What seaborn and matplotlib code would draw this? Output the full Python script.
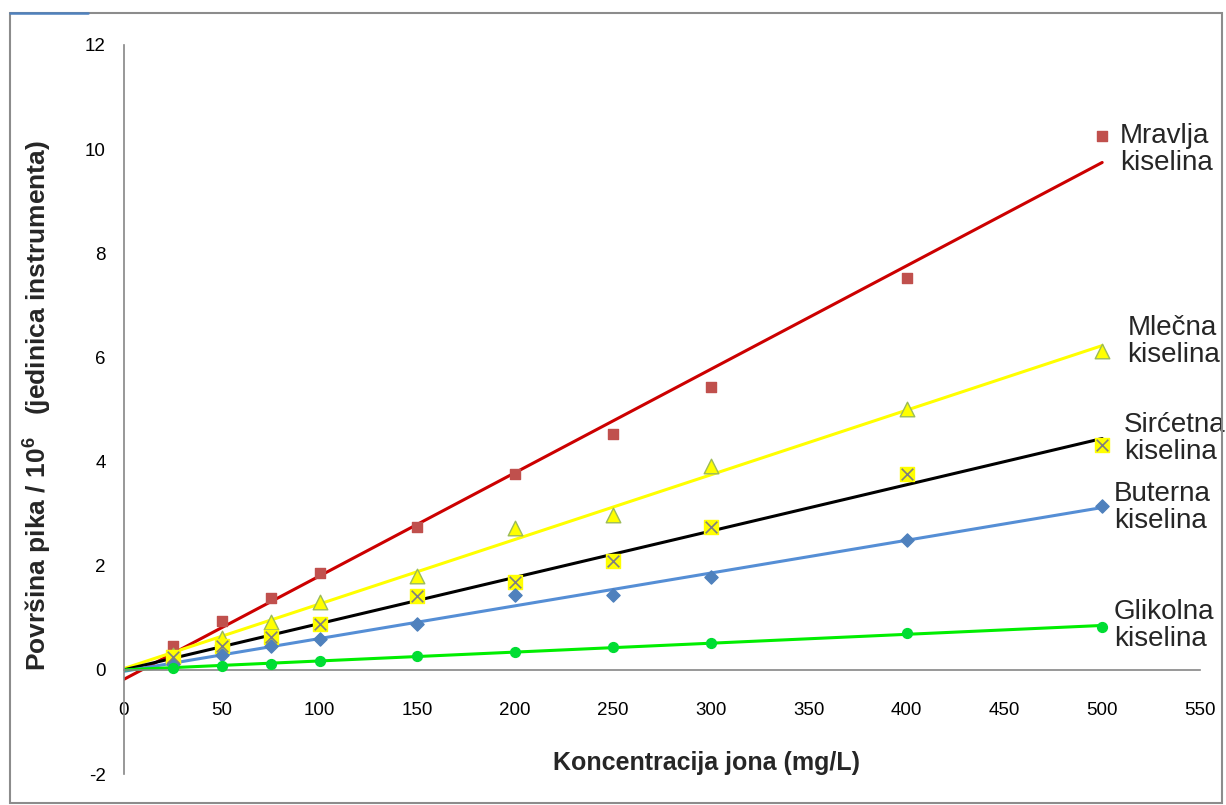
import numpy as np
import pandas as pd
import seaborn as sns
import matplotlib.pyplot as plt
from matplotlib.lines import Line2D
from matplotlib.patches import Rectangle

# concentrations (mg/L) and peak areas / 10^6
conc = [25, 50, 75, 100, 150, 200, 250, 300, 400, 500]
mravlja = [0.46, 0.94, 1.38, 1.86, 2.75, 3.76, 4.53, 5.43, 7.52, 10.25]
mlecna = [0.29, 0.62, 0.91, 1.31, 1.80, 2.72, 2.98, 3.92, 5.01, 6.12]
sircetna = [0.25, 0.45, 0.64, 0.88, 1.41, 1.68, 2.09, 2.74, 3.76, 4.32]
buterna = [0.12, 0.29, 0.45, 0.59, 0.88, 1.43, 1.43, 1.79, 2.50, 3.14]
glikolna = [0.04, 0.08, 0.12, 0.17, 0.26, 0.35, 0.43, 0.52, 0.70, 0.83]

names = ['Mravlja\nkiselina', 'Mlečna\nkiselina', 'Sirćetna\nkiselina',
         'Buterna\nkiselina', 'Glikolna\nkiselina']
series = [mravlja, mlecna, sircetna, buterna, glikolna]

x_ticks = list(range(0, 551, 50))
y_ticks = list(range(-2, 13, 2))

sns.set_style('white')
plt.rcParams['font.family'] = ['Liberation Sans', 'DejaVu Sans']
plt.rcParams['axes.unicode_minus'] = False
plt.rcParams['mathtext.fontset'] = 'custom'
plt.rcParams['mathtext.rm'] = 'Liberation Sans'
plt.rcParams['mathtext.bf'] = 'Liberation Sans:bold'

df = pd.DataFrame({
    'conc': conc * len(series),
    'area': [v for s in series for v in s],
    'acid': [n for n, s in zip(names, series) for _ in s],
})

# style per acid: line colour, marker, face, edge, size
styles = {
    names[0]: dict(line='#CC0000', marker='s', face='#C0504D', edge='#C0504D', s=55),
    names[1]: dict(line='#FFFF00', marker='^', face='#FFFF00', edge='#9BBB59', s=110),
    names[2]: dict(line='#000000', marker='s', face='#FFFF00', edge='#FFFF00', s=90),
    names[3]: dict(line='#558ED5', marker='D', face='#4F81BD', edge='#4F81BD', s=45),
    names[4]: dict(line='#00EE00', marker='o', face='#00DD33', edge='#00DD33', s=50),
}
label_pos = {
    names[0]: (509, 10.0),
    names[1]: (513, 6.30),
    names[2]: (511, 4.45),
    names[3]: (506, 3.11),
    names[4]: (506, 0.86),
}

fig = plt.figure(figsize=(12.26, 8.05), dpi=100)
ax = fig.add_axes([0.1011, 0.0385, 0.8777, 0.9056])

for name in names:
    sub = df[df['acid'] == name]
    st = styles[name]
    # linear trendline, extended back to zero
    k, b = np.polyfit(sub['conc'], sub['area'], 1)
    xs = np.array([0, sub['conc'].max()])
    sns.lineplot(x=xs, y=k * xs + b, color=st['line'], lw=2.2, ax=ax, zorder=2)
    sns.scatterplot(data=sub, x='conc', y='area', marker=st['marker'], s=st['s'],
                    color=st['face'], edgecolor=st['edge'], linewidth=1,
                    ax=ax, zorder=3, legend=False)
    if name == names[2]:
        sns.scatterplot(data=sub, x='conc', y='area', marker='x', s=70,
                        color='#7F7F7F', linewidth=1.2, ax=ax, zorder=4, legend=False)
    tx, ty = label_pos[name]
    ax.text(tx, ty, name, fontsize=20, ha='left', va='center', linespacing=1.05)

ax.set_xlim(0, 550)
ax.set_ylim(-2, 12)
ax.set_xticks(x_ticks)
ax.set_yticks(y_ticks)

sns.despine(ax=ax)
ax.spines['bottom'].set_position(('data', 0))
for sp in ['left', 'bottom']:
    ax.spines[sp].set_color('#868686')
    ax.spines[sp].set_linewidth(1.2)
ax.tick_params(axis='both', direction='out', length=5, width=1.2, color='#868686',
               labelsize=13.5, labelcolor='black')
ax.tick_params(axis='x', pad=18)
ax.tick_params(axis='y', pad=8)

ax.set_xlabel('Koncentracija jona (mg/L)', fontsize=18, fontweight='bold')
ax.xaxis.set_label_coords(0.541, 0.032)
ax.set_ylabel(r'Površina pika / 10$^\mathbf{6}$   (jedinica instrumenta)',
              fontsize=19, fontweight='bold')
ax.yaxis.set_label_coords(-0.066, 0.506)

# outer frame of the chart area
W, H = 1226, 805
fig.patches.append(Rectangle((10 / W, 2 / H), 1212 / W, 790 / H, transform=fig.transFigure,
                             fill=False, edgecolor='#8C8C8C', lw=1.5))
fig.lines.append(Line2D([10 / W, 88 / W], [792 / H, 792 / H], transform=fig.transFigure,
                        color='#4F81BD', lw=1.8))

fig.savefig('out.png', dpi=100)
